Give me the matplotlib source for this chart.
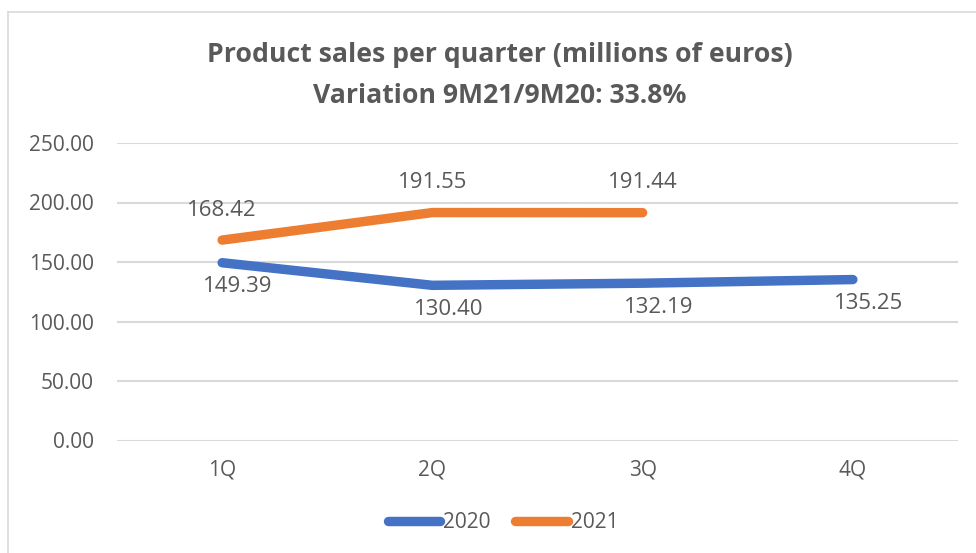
import matplotlib.pyplot as plt
from matplotlib.lines import Line2D

# === Data
quarters = ['1Q', '2Q', '3Q', '4Q']
sales_2020 = [149.39, 130.40, 132.19, 135.25]
sales_2021 = [168.42, 191.55, 191.44]
y_ticks = [0, 50, 100, 150, 200, 250]

blue = '#4472C4'
orange = '#ED7D31'
grey_text = '#595959'
body_font = ['Open Sans', 'DejaVu Sans']

plt.rcParams['font.family'] = body_font

fig = plt.figure(figsize=(9.76, 5.53), dpi=100)
ax = fig.add_axes([117 / 976, 1 - 440.5 / 553, 841 / 976, 297.5 / 553])

x20 = list(range(len(sales_2020)))
x21 = list(range(len(sales_2021)))
ax.plot(x20, sales_2020, color=blue, lw=6.8, solid_capstyle='round', solid_joinstyle='round', zorder=3)
ax.plot(x21, sales_2021, color=orange, lw=6.8, solid_capstyle='round', solid_joinstyle='round', zorder=3)

# === Data labels: 2020 below, 2021 above
for x, v in zip(x20, sales_2020):
    ax.annotate(f'{v:.2f}', (x, v), xytext=(16, -24), textcoords='offset pixels',
                ha='center', va='center', fontsize=16, color=grey_text)
for x, v in zip(x21, sales_2021):
    ax.annotate(f'{v:.2f}', (x, v), xytext=(0, 30), textcoords='offset pixels',
                ha='center', va='center', fontsize=16, color=grey_text)

ax.set_xlim(-0.5, 3.5)
ax.set_ylim(0, 250)
ax.set_yticks(y_ticks)
ax.set_yticklabels([f'{t:.2f}' for t in y_ticks], fontsize=15, color=grey_text)
ax.set_xticks(x20)
ax.set_xticklabels(quarters, fontsize=15, color=grey_text)
ax.tick_params(axis='both', length=0)
ax.tick_params(axis='x', pad=14)
ax.tick_params(axis='y', pad=16.5)
ax.grid(axis='y', color='#D9D9D9', lw=1.5)
ax.set_axisbelow(True)
for s in ax.spines.values():
    s.set_visible(False)

cx = 500 / 976
fig.text(cx, 1 - 55 / 553, 'Product sales per quarter (millions of euros)', ha='center', va='center',
         fontsize=19.2, fontweight='bold', color=grey_text)
fig.text(cx, 1 - 96 / 553, 'Variation 9M21/9M20: 33.8%', ha='center', va='center',
         fontsize=19.2, fontweight='bold', color=grey_text)

# === Legend
handles = [Line2D([0], [0], color=blue, lw=6.8, solid_capstyle='round'),
           Line2D([0], [0], color=orange, lw=6.8, solid_capstyle='round')]
leg = fig.legend(handles, ['2020', '2021'], loc='center', bbox_to_anchor=(503 / 976, 1 - 523 / 553), ncol=2,
                 frameon=False, handlelength=2.5, handletextpad=0.15, columnspacing=1.2,
                 prop={'family': body_font, 'size': 15})
for t in leg.get_texts():
    t.set_color(grey_text)

# === Chart frame
fig.add_artist(Line2D([8 / 976, 8 / 976], [0, 1 - 12 / 553], transform=fig.transFigure, color='#D9D9D9', lw=1.2))
fig.add_artist(Line2D([8 / 976, 1], [1 - 12 / 553, 1 - 12 / 553], transform=fig.transFigure, color='#D9D9D9', lw=1.2))

fig.savefig('out.png', dpi=100)
